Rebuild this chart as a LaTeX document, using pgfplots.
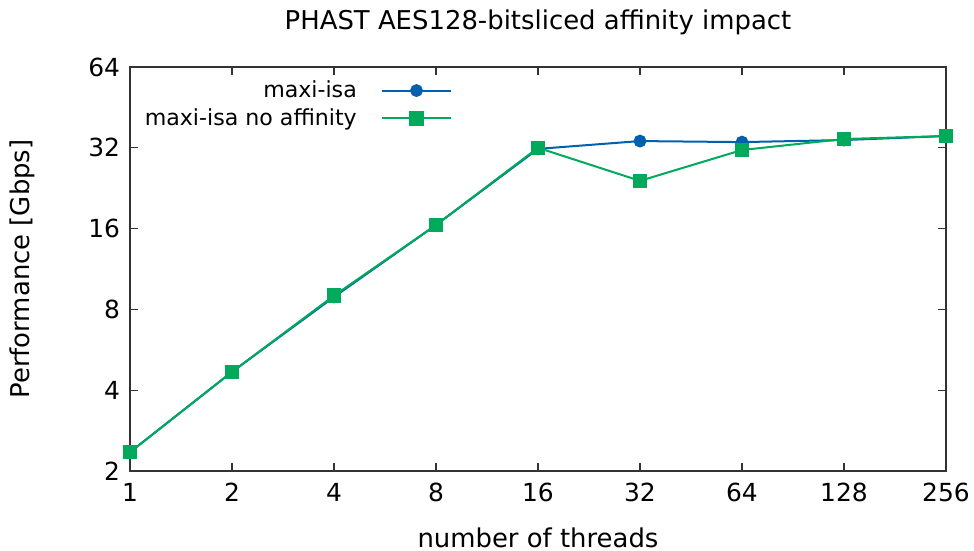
\documentclass[border=0pt]{standalone}
\usepackage{fontspec}
\setmainfont{DejaVu Sans}
\usepackage{pgfplots}
\pgfplotsset{compat=1.18}
\definecolor{cblue}{HTML}{0060AD}
\definecolor{cgreen}{HTML}{00AA5A}
\begin{document}
\begin{tikzpicture}
\path[use as bounding box] (-65bp,-40bp) rectangle (422bp,235.5bp);
\begin{axis}[
  at={(0,0)}, anchor=south west,
  scale only axis,
  width=408bp, height=202bp,
  xmode=log, ymode=log,
  log basis x=2, log basis y=2,
  xmin=1, xmax=256, ymin=2, ymax=64,
  xtick={1,2,4,8,16,32,64,128,256},
  xticklabels={1,2,4,8,16,32,64,128,256},
  ytick={2,4,8,16,32,64},
  yticklabels={2,4,8,16,32,64},
  minor tick num=0,
  tick align=inside,
  major tick length=4bp,
  axis line style={line width=0.7bp, black!80},
  every tick/.style={black!80, line width=0.6bp},
  tick label style={font=\fontsize{12.5}{14}\selectfont},
  xticklabel style={yshift=-2.5bp},
  yticklabel style={xshift=-1.5bp},
  title={PHAST AES128-bitsliced affinity impact},
  title style={font=\fontsize{13}{15}\selectfont, at={(axis description cs:0.5,1.081)}, anchor=center},
  xlabel={number of threads},
  ylabel={Performance [Gbps]},
  label style={font=\fontsize{13}{15}\selectfont},
  xlabel style={at={(axis description cs:0.5,-0.166)}, anchor=center},
  ylabel style={at={(axis description cs:-0.132,0.5)}, anchor=center},
  legend plot pos=right,
  legend cell align=right,
  legend style={draw=none, fill=none, at={(0.398,0.982)}, anchor=north east,
    font=\fontsize{11.1}{13.5}\selectfont, row sep=0bp, inner sep=1bp},
  legend image code/.code={\path (0cm,0cm); \draw[mark repeat=2,mark phase=2,#1] plot coordinates {(0.35cm,0cm) (0.965cm,0cm) (1.58cm,0cm)};},
]
\addplot[color=cblue, line width=1bp, mark=*, mark size=2.7bp, mark options={solid}] coordinates {
(1,2.35) (2,4.68) (4,8.9) (8,16.5) (16,31.7) (32,33.9) (64,33.6) (128,34.2) (256,35.4)
};
\addlegendentry{maxi-isa}
\addplot[color=cgreen, line width=1bp, mark=square*, mark size=3.1bp, mark options={solid}] coordinates {
(1,2.35) (2,4.68) (4,9.0) (8,16.5) (16,32.0) (32,24.1) (64,31.4) (128,34.5) (256,35.4)
};
\addlegendentry{maxi-isa no affinity}
\end{axis}
\end{tikzpicture}
\end{document}
